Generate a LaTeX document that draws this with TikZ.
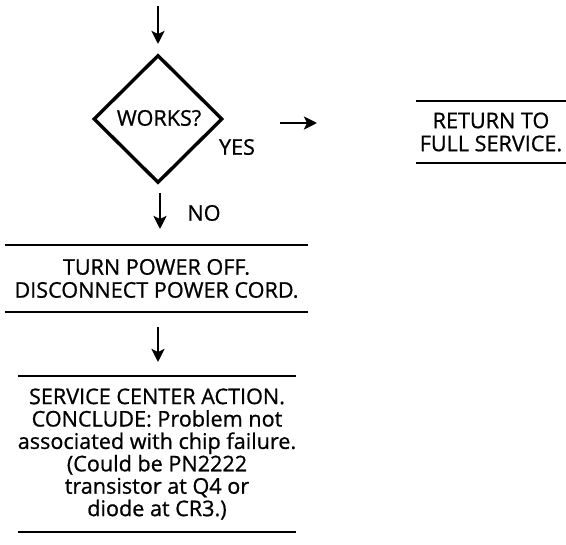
\documentclass[tikz,border=0pt]{standalone}
\usepackage{fontspec}
\setmainfont{Open Sans}[FakeBold=0.8]
\usetikzlibrary{arrows.meta,shapes.geometric}
\begin{document}
\begin{tikzpicture}[x=1pt,y=-1pt,
  txt/.style={font=\fontsize{21.6}{23}\selectfont, align=center, inner sep=0pt},
  rulebox/.style={txt, rectangle},
  rule/.style={line width=2.4pt},
  arr/.style={line width=2.8pt, -{Stealth[length=13pt,width=13pt,inset=3pt]}},
  dia/.style={diamond, draw, line width=3.4pt, minimum width=129pt, minimum height=128pt, inner sep=0pt}]
\useasboundingbox (0,0) rectangle (566,545);
% decision
\node[dia] (d) at (158,119) {};
\node[txt] (w) at (159,118) {WORKS?};
\node[txt] (yes) at (237,147) {YES};
\node[txt] (no) at (204,213) {NO};
% boxes
\node[rulebox, minimum width=150pt, minimum height=62pt] (ret) at (491,132) {RETURN TO\\FULL SERVICE.};
\node[rulebox, minimum width=303pt, minimum height=67pt] (b2) at (156.5,278.5) {TURN POWER OFF.\\DISCONNECT POWER CORD.};
\node[rulebox, minimum width=260pt, minimum height=156pt, font=\fontsize{21.6}{22.4}\selectfont] (b3) at (157,454) {SERVICE CENTER ACTION.\\CONCLUDE: Problem not\\associated with chip failure.\\(Could be PN2222\\transistor at Q4 or\\diode at CR3.)};
\foreach \b in {ret,b2,b3}{
  \draw[rule] (\b.north west) -- (\b.north east);
  \draw[rule] (\b.south west) -- (\b.south east);
}
% arrows
\coordinate (a0) at (158,6);
\coordinate (a1) at (158,44);
\draw[arr] (a0) -- (a1);
\coordinate (ya) at (280,123);
\coordinate (yb) at (317,123);
\draw[arr] (ya) -- (yb);
\coordinate (n0) at (160,193);
\coordinate (n1) at (160,229);
\draw[arr] (n0) -- (n1);
\coordinate (m0) at (158,327);
\coordinate (m1) at (158,362);
\draw[arr] (m0) -- (m1);
\end{tikzpicture}
\end{document}
